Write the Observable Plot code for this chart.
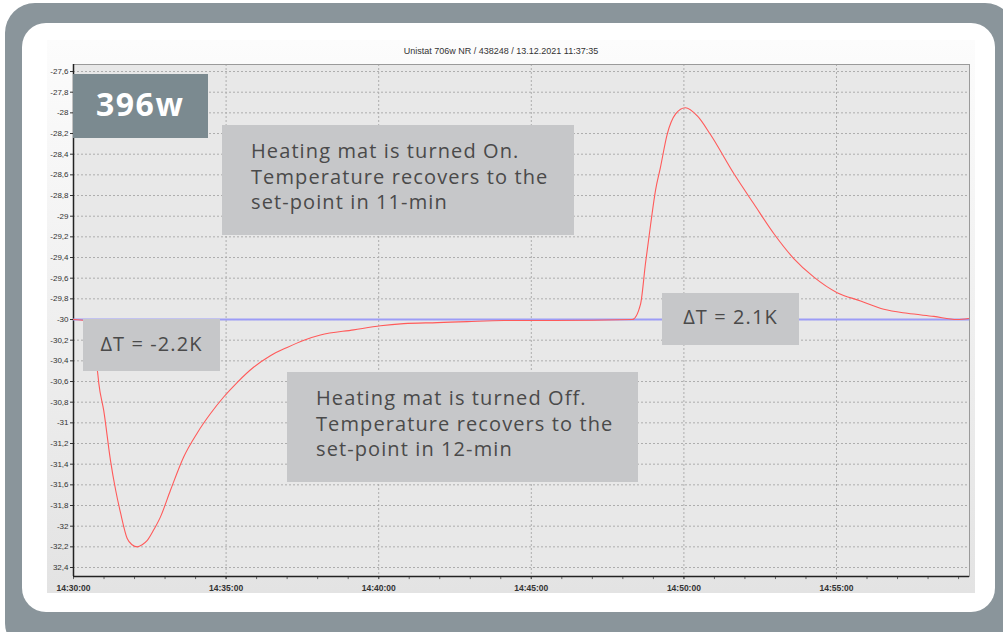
<!DOCTYPE html>
<html>
<head>
<meta charset="utf-8">
<script src="https://cdn.jsdelivr.net/npm/d3@7"></script>
<script src="https://cdn.jsdelivr.net/npm/@observablehq/plot@0.6"></script>
<style>
  html, body { margin: 0; padding: 0; background: #fff; }
  #page { position: relative; width: 1003px; height: 632px; overflow: hidden; background: #fff; }
  .abs { position: absolute; }
  .note { position: absolute; background: #c6c7c9; color: #4a4a4a; font-family: "Open Sans", sans-serif; font-size: 20px; letter-spacing: 1.1px; box-sizing: border-box; white-space: nowrap; }
  #chart svg [aria-label^="x-axis"] text { font-weight: bold; font-size: 8.5px; }
</style>
</head>
<body>
<div id="page">
  <div class="abs" style="left:5px;top:3px;width:1010px;height:650px;background:#8a959b;border-radius:30px;"></div>
  <div class="abs" style="left:22px;top:23px;width:973px;height:589px;background:#fff;border-radius:24px;"></div>
  <div class="abs" style="left:47px;top:40px;width:928px;height:553px;background:linear-gradient(#fcfcfc,#e3e3e3);"></div>
  <div class="abs" id="title" style="left:300px;width:402px;top:45px;text-align:center;font-family:'Liberation Sans',Arial,sans-serif;font-size:9px;color:#333;line-height:12px;"></div>
  <div id="chart" class="abs" style="left:0;top:0;"></div>
  <div class="abs" id="badge" style="left:73px;top:74px;width:135px;height:64px;background:#7b8a90;color:#fff;font-family:'Open Sans',sans-serif;font-weight:bold;font-size:32px;letter-spacing:1.5px;line-height:32px;padding:14px 0 0 23px;box-sizing:border-box;"></div>
  <div class="note" id="note1" style="left:222px;top:125px;width:352px;height:110px;padding:13px 0 0 29px;line-height:25.5px;"></div>
  <div class="note" id="note2" style="left:287px;top:372px;width:351px;height:110px;padding:13px 0 0 29px;line-height:25.5px;"></div>
  <div class="note" id="dt1" style="left:83px;top:319px;width:137px;height:52px;padding-top:15px;line-height:20px;text-align:center;"></div>
  <div class="note" id="dt2" style="left:662px;top:293px;width:137px;height:52px;padding-top:14px;line-height:20px;text-align:center;"></div>
</div>
<script>
// ---- data ----
const titleText = "Unistat 706w NR / 438248 / 13.12.2021 11:37:35";
const badgeText = "396w";
const note1Lines = ["Heating mat is turned On.", "Temperature recovers to the", "set-point in 11-min"];
const note2Lines = ["Heating mat is turned Off.", "Temperature recovers to the", "set-point in 12-min"];
const deltaLow = "ΔT = -2.2K";
const deltaHigh = "ΔT = 2.1K";

// minutes after 14:30:00
const minutes = [0, 0.39, 0.52, 0.66, 0.79, 0.83, 0.99, 1.21, 1.38, 1.54, 1.76, 1.92, 2.09, 2.25, 2.41, 2.62, 2.85, 3.18, 3.61, 4.05, 4.49, 4.92, 5.36, 5.91, 6.45, 7.00, 7.55, 8.09, 9.18, 10.06, 10.82, 11.92, 12.90, 14.10, 15.74, 18.31, 18.58, 18.74, 18.91, 19.07, 19.23, 19.45, 19.73, 20.05, 20.44, 20.87, 21.64, 22.29, 22.95, 23.60, 24.26, 25.02, 25.79, 26.55, 27.32, 28.19, 28.95, 29.33];
const temps = [-30.00, -30.01, -30.11, -30.30, -30.51, -30.62, -30.88, -31.36, -31.65, -31.87, -32.12, -32.18, -32.20, -32.18, -32.14, -32.04, -31.91, -31.65, -31.33, -31.10, -30.91, -30.75, -30.61, -30.46, -30.35, -30.27, -30.20, -30.15, -30.10, -30.06, -30.04, -30.03, -30.02, -30.01, -30.01, -30.00, -29.85, -29.46, -29.08, -28.75, -28.53, -28.21, -28.01, -27.95, -28.03, -28.21, -28.59, -28.88, -29.17, -29.41, -29.59, -29.74, -29.82, -29.90, -29.94, -29.97, -30.00, -29.99];
const setPoint = -30;

const yTicks = [-27.6, -27.8, -28, -28.2, -28.4, -28.6, -28.8, -29, -29.2, -29.4, -29.6, -29.8, -30, -30.2, -30.4, -30.6, -30.8, -31, -31.2, -31.4, -31.6, -31.8, -32, -32.2, -32.4];
const yTickLabels = ["-27,6", "-27,8", "-28", "-28,2", "-28,4", "-28,6", "-28,8", "-29", "-29,2", "-29,4", "-29,6", "-29,8", "-30", "-30,2", "-30,4", "-30,6", "-30,8", "-31", "-31,2", "-31,4", "-31,6", "-31,8", "-32", "-32,2", "32,4"];
const xTickMinutes = [0, 5, 10, 15, 20, 25];
const minorMinutes = [0,1,2,3,4,5,6,7,8,9,10,11,12,13,14,15,16,17,18,19,20,21,22,23,24,25,26,27,28,29];
const xEndMinutes = 29.358;
const yDomain = [-32.487, -27.532];

// ---- build ----
const start = Date.UTC(2021, 11, 13, 14, 30, 0);
const toDate = m => new Date(start + m * 60000);
const data = minutes.map((m, i) => ({time: toDate(m), temp: temps[i]}));
const xDomain = [toDate(0), toDate(xEndMinutes)];

document.getElementById("title").textContent = titleText;
document.getElementById("badge").textContent = badgeText;
document.getElementById("note1").innerHTML = note1Lines.join("<br>");
document.getElementById("note2").innerHTML = note2Lines.join("<br>");
document.getElementById("dt1").textContent = deltaLow;
document.getElementById("dt2").textContent = deltaHigh;

const chart = Plot.plot({
  width: 1003,
  height: 632,
  marginLeft: 73,
  marginRight: 34,
  marginTop: 64,
  marginBottom: 56,
  style: {background: "transparent", fontFamily: "'Liberation Sans', Arial, sans-serif", fontSize: "8px", color: "#333", overflow: "visible"},
  x: {type: "utc", domain: xDomain, ticks: xTickMinutes.map(toDate), tickFormat: d3.utcFormat("%H:%M:%S"), tickSize: 3, tickPadding: 5, label: null},
  y: {domain: yDomain, ticks: yTicks, tickFormat: d => yTickLabels[yTicks.indexOf(d)], tickSize: 3, tickPadding: 2, label: null},
  marks: [
    Plot.frame({fill: "#e8e8e8"}),
    Plot.ruleY(yTicks, {stroke: "#adadad", strokeDasharray: "2,2"}),
    Plot.ruleX(xTickMinutes.map(toDate), {stroke: "#adadad", strokeDasharray: "2,2"}),
    Plot.ruleX(minorMinutes.map(toDate), {y1: () => yDomain[0], y2: () => yDomain[0] - 0.03, stroke: "#666"}),
    Plot.frame({stroke: "#9a9a9a"}),
    Plot.ruleX([xDomain[0]], {stroke: "#222", strokeWidth: 1.5}),
    Plot.ruleY([yDomain[0]], {stroke: "#222", strokeWidth: 1.5}),
    Plot.ruleY([setPoint], {stroke: "#9c9cf6", strokeWidth: 2}),
    Plot.line(data, {x: "time", y: "temp", stroke: "#ff5a5a", strokeWidth: 1.1, curve: "monotone-x"})
  ]
});
document.getElementById("chart").appendChild(chart);
</script>
</body>
</html>
